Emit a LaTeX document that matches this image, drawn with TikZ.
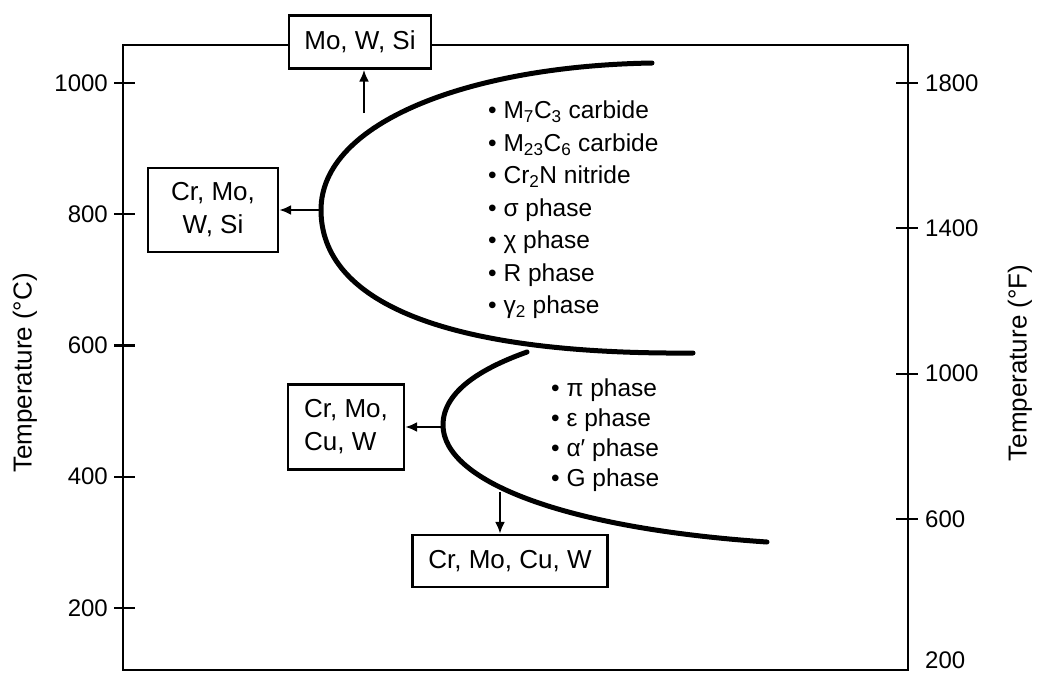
\documentclass[tikz,border=0pt]{standalone}
\usepackage{fontspec}
\setmainfont{Liberation Sans}
\usetikzlibrary{arrows.meta, positioning}

\begin{document}
\begin{tikzpicture}[x=1pt, y=-1pt,
    elembox/.style={draw, fill=white, line width=2.3pt, align=center, inner sep=0pt,
      font=\fontsize{26}{33}\selectfont},
    phasecurve/.style={line width=5pt, line cap=round},
    pointer/.style={line width=2.6pt, -{Latex[length=12pt, width=10pt]}},
    ticklabel/.style={font=\fontsize{24}{26}\selectfont, inner sep=0pt},
    phaselist/.style={align=left, anchor=west, inner sep=0pt}]
    \useasboundingbox (0,0) rectangle (1039,673);

    % Frame
    \draw[line width=2.4pt] (123,45) rectangle (908,670);

    % Left axis (deg C)
    \foreach \t [count=\i from 0] in {1000,800,600,400,200} {
        \draw[line width=2.2pt] (114,{83+131.2*\i}) -- (135,{83+131.2*\i});
        \node[ticklabel, anchor=east] (lt\i) at (108,{83+131.2*\i}) {\t};
    }
    \node[rotate=90, font=\fontsize{26}{28}\selectfont] (ctitle) at (25,373) {Temperature (°C)};

    % Right axis (deg F)
    \foreach \t [count=\i from 0] in {1800,1400,1000,600} {
        \draw[line width=2.2pt] (896,{83+145.3*\i}) -- (918,{83+145.3*\i});
        \node[ticklabel, anchor=west] (rt\i) at (925,{83+145.3*\i}) {\t};
    }
    \node[ticklabel, anchor=west] (rt4) at (925,660) {200};
    \node[rotate=90, font=\fontsize{26}{28}\selectfont] (ftitle) at (1020,363) {Temperature (°F)};

    % Upper C-curve
    \draw[phasecurve] (652,63) .. controls (470,66) and (321,122) .. (321,210)
        .. controls (321,300) and (440,355) .. (693,353);
    % Lower C-curve
    \draw[phasecurve] (527,352) .. controls (485,367) and (443,390) .. (443,425)
        .. controls (443,480) and (560,528) .. (767,542);

    \coordinate (upnose) at (319,210);
    \coordinate (uptop) at (364,113);
    \coordinate (lownose) at (441,427);
    \coordinate (lowbot) at (500,492);

    % Element boxes
    \node[elembox, minimum width=142pt, minimum height=53pt] (mows) at (360,42) {Mo, W, Si};
    \node[elembox, minimum width=130pt, minimum height=84pt] (crmows) at (213,210) {Cr, Mo,\\W, Si};
    \node[elembox, align=left, minimum width=116pt, minimum height=85pt] (crmocuw) at (346,427) {Cr, Mo,\\Cu, W};
    \node[elembox, minimum width=195pt, minimum height=52pt] (crmocuwlow) at (510,561) {Cr, Mo, Cu, W};

    \draw[pointer] (uptop) -- (uptop |- mows.south);
    \draw[pointer] (upnose) -- (crmows.east);
    \draw[pointer] (lownose) -- (crmocuw.east);
    \draw[pointer] (lowbot) -- (lowbot |- crmocuwlow.north);

    % Phase lists
    \node[phaselist, font=\fontsize{24.5}{32.5}\selectfont] (upperlist) at (488,210)
        {• M\textsubscript{7}C\textsubscript{3} carbide\\
         • M\textsubscript{23}C\textsubscript{6} carbide\\
         • Cr\textsubscript{2}N nitride\\
         • σ phase\\
         • χ phase\\
         • R phase\\
         • γ\textsubscript{2} phase};
    \node[phaselist, font=\fontsize{24.5}{30}\selectfont] (lowerlist) at (551,435)
        {• π phase\\
         • ε phase\\
         • α′ phase\\
         • G phase};
\end{tikzpicture}
\end{document}
